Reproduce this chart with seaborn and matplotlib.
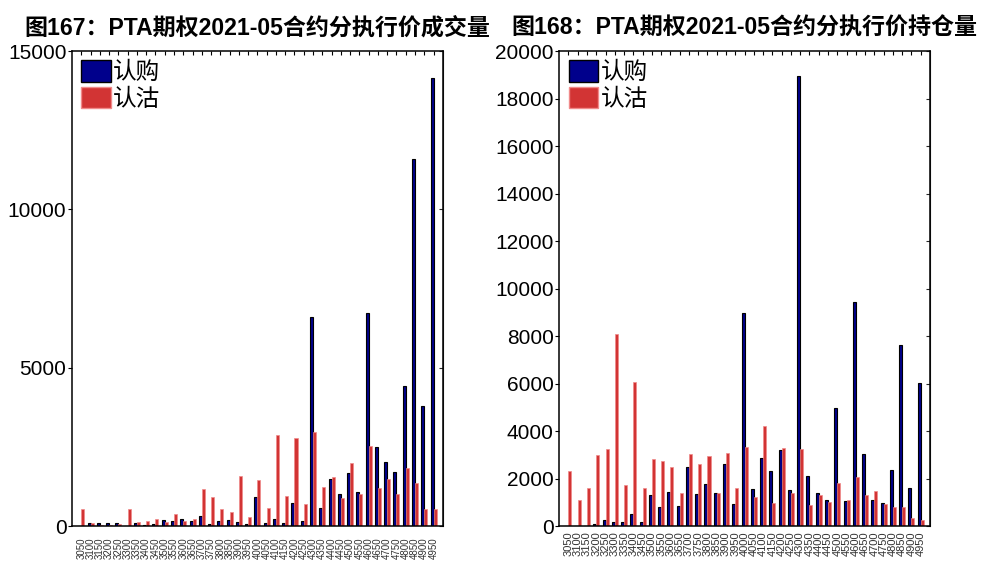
import pandas as pd
import matplotlib.pyplot as plt
import seaborn as sns
from matplotlib.patches import Patch

sns.set_style("white")
plt.rcParams['font.family'] = ['Liberation Sans', 'Noto Sans CJK SC', 'DejaVu Sans']
plt.rcParams['text.color'] = 'black'

# 执行价
strikes = [str(s) for s in range(3050, 5000, 50)]

# 图167 成交量
vol_call = [0, 90, 90, 90, 90, 0, 90, 30, 60, 190, 160, 220, 160, 320, 60, 150, 190, 140, 50,
            930, 85, 210, 105, 740, 170, 6590, 560, 1470, 1000, 1670, 1060, 6730, 2510, 2010, 1720,
            4430, 11600, 3800, 14150]
vol_put = [530, 110, 45, 45, 55, 540, 140, 160, 220, 140, 370, 160, 220, 1160, 920, 530, 440, 1570, 300,
           1450, 580, 2860, 950, 2780, 690, 2970, 1220, 1550, 870, 2000, 1000, 2530, 1200, 1480, 1020,
           1820, 1350, 530, 530]

# 图168 持仓量
oi_call = [0, 0, 0, 100, 250, 180, 180, 500, 170, 1300, 810, 1440, 850, 2480, 1340, 1750, 1390, 2620, 920,
           8960, 1540, 2870, 2310, 3210, 1500, 18940, 2110, 1400, 1100, 4960, 1040, 9420, 3020, 1100, 950,
           2340, 7630, 1580, 6020]
oi_put = [2310, 1080, 1610, 2980, 3230, 8080, 1720, 6050, 1610, 2840, 2720, 2480, 1390, 3040, 2600, 2950, 1390, 3090, 1580,
          3340, 1230, 4200, 980, 3280, 1370, 3250, 880, 1320, 1010, 1810, 1100, 2070, 1300, 1470, 910,
          810, 780, 320, 270]

call_color = '#00008c'
put_color = '#d23434'


def draw(ax, call, put, ymax, yticks, title, label_size, label_pad):
    df = pd.DataFrame({
        'strike': strikes * 2,
        'value': call + put,
        'type': ['认购'] * len(strikes) + ['认沽'] * len(strikes),
    })
    sns.barplot(data=df, x='strike', y='value', hue='type', order=strikes,
                hue_order=['认购', '认沽'], palette=[call_color, put_color],
                width=0.65, saturation=1, legend=False, ax=ax)
    for bar in ax.containers[0]:
        bar.set_edgecolor('black')
        bar.set_linewidth(0.8)
    for bar in ax.containers[1]:
        bar.set_edgecolor('#f08a8a')
        bar.set_linewidth(0.5)

    ax.set_xlim(-1, len(strikes))
    ax.set_ylim(0, ymax)
    ax.set_yticks(yticks)
    ax.set_xlabel('')
    ax.set_ylabel('')
    ax.set_title(title, fontsize=16.6, fontweight='bold', pad=12, color='black')

    for s in ax.spines.values():
        s.set_visible(True)
        s.set_color('black')
        s.set_linewidth(1.1)

    ax.tick_params(axis='y', left=True, right=False, direction='out', length=3,
                   labelsize=15, pad=1, colors='black')
    ax.tick_params(axis='x', bottom=False, top=True, direction='in', length=3,
                   labelsize=label_size, rotation=90, pad=label_pad, colors='black')
    for lab in ax.get_xticklabels():
        lab.set_color('#333333')

    sec = ax.secondary_yaxis('right')
    sec.set_yticks(yticks)
    sec.tick_params(direction='in', length=3, labelright=False)

    handles = [Patch(facecolor=call_color, edgecolor='black', label='认购'),
               Patch(facecolor=put_color, edgecolor='#f08a8a', label='认沽')]
    ax.legend(handles=handles, loc='upper left', frameon=False, fontsize=17,
              handlelength=1.25, handleheight=1.0, handletextpad=0.1,
              labelspacing=0.12, borderaxespad=0.2, borderpad=0.2,
              labelcolor='black')


fig = plt.figure(figsize=(9.81, 5.63), dpi=100)
ax1 = fig.add_axes([0.0734, 0.0657, 0.378, 0.8437])
ax2 = fig.add_axes([0.570, 0.0657, 0.378, 0.8437])

draw(ax1, vol_call, vol_put, 15000, [0, 5000, 10000, 15000],
     '图167：PTA期权2021-05合约分执行价成交量', 7, 8)
draw(ax2, oi_call, oi_put, 20000, list(range(0, 20001, 2000)),
     '图168：PTA期权2021-05合约分执行价持仓量', 8, 4)

plt.savefig('out.png', dpi=100)
